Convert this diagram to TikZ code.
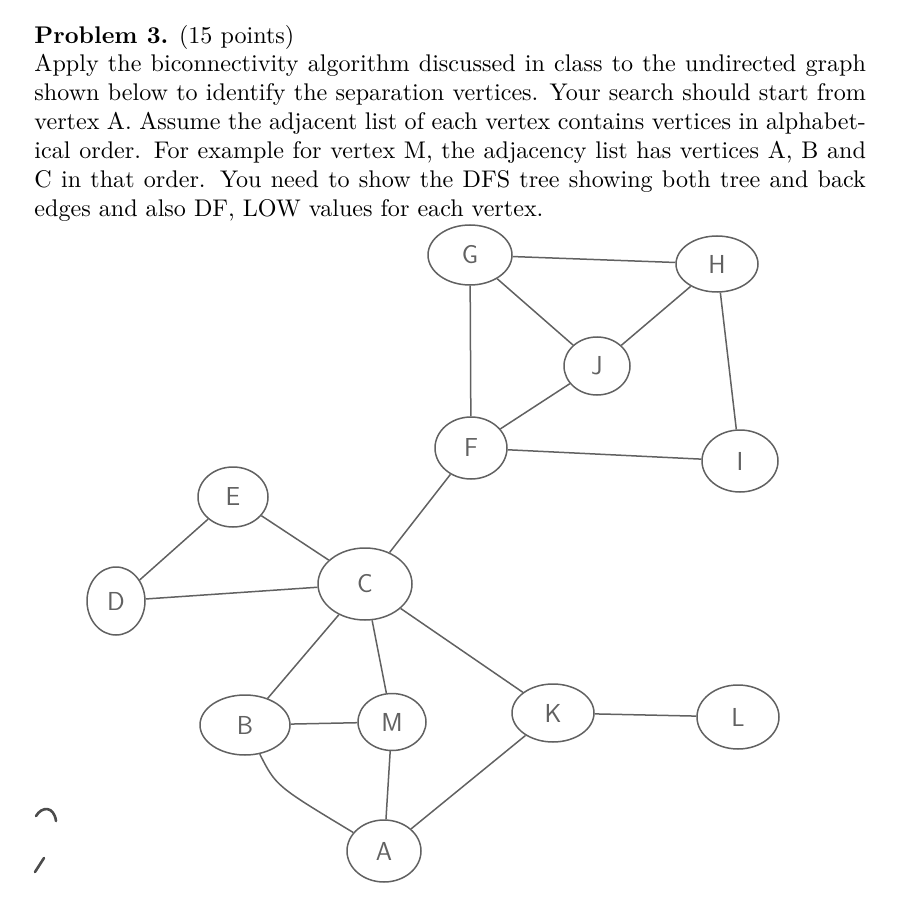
\documentclass[tikz,border=0pt]{standalone}
\usetikzlibrary{shapes.geometric}
\hyphenation{alphabet-ical}
\begin{document}
\begin{tikzpicture}[x=1pt,y=-1pt,
  vtx/.style={ellipse, draw=black!62, line width=1.5pt, inner sep=0pt,
    font=\sffamily\fontsize{26}{30}\selectfont, text=black!62},
  edge/.style={draw=black!62, line width=1.5pt},
  pencilmark/.style={draw=black!70, line width=2.6pt, line cap=round}]
\useasboundingbox (0,0) rectangle (918,917);
\node[anchor=north west, inner sep=0pt, scale=2.41, transform shape,
  text width=345pt, align=justify, font=\fontsize{10}{12}\selectfont] (txt) at (34,24.5)
{\parindent=0pt\textbf{Problem 3.} (15 points)\par
Apply the biconnectivity algorithm discussed in class to the undirected graph shown below to identify the separation vertices. Your search should start from vertex A. Assume the adjacent list of each vertex contains vertices in alphabetical order. For example for vertex M, the adjacency list has vertices A, B and C in that order. You need to show the DFS tree showing both tree and back edges and also DF, LOW values for each vertex.};
% vertices
\node[vtx, minimum width=84pt, minimum height=60pt] (G) at (470,255) {G};
\node[vtx, minimum width=82pt, minimum height=56pt] (H) at (717,264) {H};
\node[vtx, minimum width=66pt, minimum height=58pt] (J) at (597,366) {J};
\node[vtx, minimum width=72pt, minimum height=62pt] (F) at (471,448) {F};
\node[vtx, minimum width=76pt, minimum height=62pt] (I) at (740,461) {I};
\node[vtx, minimum width=70pt, minimum height=60pt] (E) at (233,497) {E};
\node[vtx, minimum width=58pt, minimum height=68pt] (D) at (116,601) {D};
\node[vtx, minimum width=94pt, minimum height=72pt] (C) at (365,584) {C};
\node[vtx, minimum width=90pt, minimum height=60pt] (B) at (245,725) {B};
\node[vtx, minimum width=68pt, minimum height=57pt] (M) at (392,722) {M};
\node[vtx, minimum width=82pt, minimum height=58pt] (K) at (553,713) {K};
\node[vtx, minimum width=82pt, minimum height=64pt] (L) at (738,717) {L};
\node[vtx, minimum width=74pt, minimum height=62pt] (A) at (384,851) {A};
% edges
\draw[edge] (G) -- (H);
\draw[edge] (G) -- (J);
\draw[edge] (G) -- (F);
\draw[edge] (H) -- (J);
\draw[edge] (H) -- (I);
\draw[edge] (J) -- (F);
\draw[edge] (F) -- (I);
\draw[edge] (F) -- (C);
\draw[edge] (E) -- (D);
\draw[edge] (E) -- (C);
\draw[edge] (D) -- (C);
\draw[edge] (C) -- (B);
\draw[edge] (C) -- (M);
\draw[edge] (C) -- (K);
\draw[edge] (B) -- (M);
\draw[edge] (B) .. controls (276,786) .. (A);
\draw[edge] (M) -- (A);
\draw[edge] (A) -- (K);
\draw[edge] (K) -- (L);
% stray pencil marks
\draw[pencilmark] (36,816) .. controls (42,806) and (54,806) .. (56,821);
\draw[pencilmark] (35,872) -- (44,858);
\end{tikzpicture}
\end{document}
